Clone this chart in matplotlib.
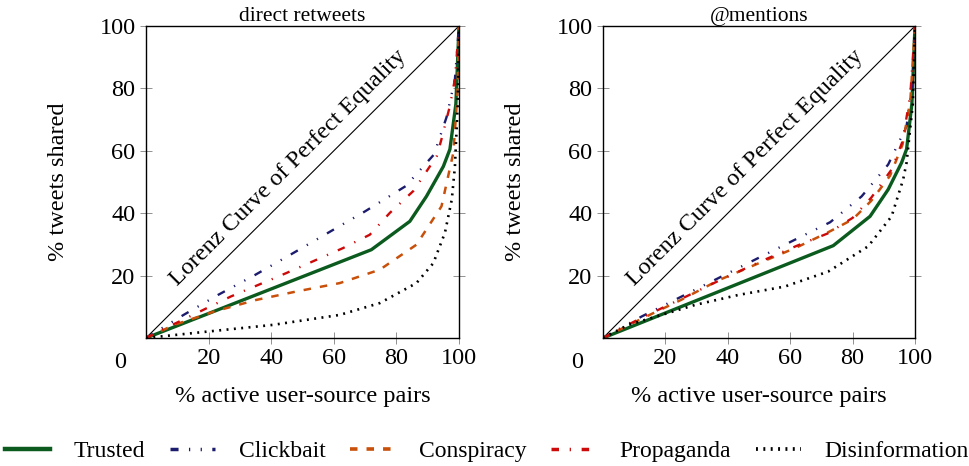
import matplotlib
matplotlib.use('Agg')
import matplotlib.pyplot as plt
import numpy as np

plt.rcParams['font.family'] = ['Liberation Serif', 'DejaVu Serif']
plt.rcParams['lines.scale_dashes'] = False

#----------------------------------------------------------------------
# data (% active user-source pairs, % tweets shared)

rt_trusted_x = [0, 72, 84.3, 89.6, 95, 97.1, 99, 100]
rt_trusted_y = [0, 28.3, 37.4, 45.4, 55, 60.5, 75, 100]

rt_click_x = [0, 12, 23, 35, 47, 59, 70, 83, 92, 96, 98.7, 100]
rt_click_y = [0, 7.4, 13.8, 20.3, 27.2, 34.2, 40.6, 48.7, 58.8, 70.7, 83, 100]

rt_consp_x = [0, 9, 21.8, 35.2, 48, 61.9, 74.7, 86.4, 94.4, 98.2, 99.5, 100]
rt_consp_y = [0, 4.2, 8.5, 12.2, 14.9, 17.6, 21.9, 29.9, 42.2, 59.4, 78, 100]

rt_prop_x = [0, 8.4, 27.1, 44.8, 62.9, 71.5, 77.9, 85.4, 92.9, 94.4, 97.1, 98.7, 100]
rt_prop_y = [0, 4.2, 13.3, 20.8, 28.8, 33.1, 40.1, 47.1, 58.3, 63.7, 74.4, 83, 100]

rt_disinfo_x = [0, 19.1, 40.5, 61.9, 74.7, 86.4, 91.8, 95.5, 97.7, 98.7, 99.6, 100]
rt_disinfo_y = [0, 2, 4.2, 7.4, 11.2, 17.6, 24, 33.7, 44.4, 55, 75, 100]

mn_trusted_x = [0, 73.8, 85.6, 91.4, 95.7, 97.3, 99, 100]
mn_trusted_y = [0, 29.6, 39, 47.6, 56.2, 60.5, 75, 100]

mn_click_x = [0, 12.4, 25.2, 37, 48.7, 60.5, 72.8, 82.9, 91.4, 97.3, 99.2, 100]
mn_click_y = [0, 6.9, 13.3, 19.2, 25.1, 31, 37.1, 45.4, 55.6, 67.9, 82, 100]

mn_consp_x = [0, 12, 25, 37, 50, 62, 72, 80, 86, 92, 96, 98.5, 100]
mn_consp_y = [0, 6, 12.2, 18.5, 24, 29, 33.8, 38, 44, 52, 62, 76, 100]

mn_prop_x = [0, 12, 25, 37, 50, 62, 72, 80, 86, 92.5, 96, 98.5, 100]
mn_prop_y = [0, 6.3, 12.5, 18.3, 24.3, 29.5, 33.5, 38.5, 45, 54, 63, 78, 100]

mn_disinfo_x = [0, 8.1, 29.5, 43.4, 58.3, 72.2, 85, 92.5, 96.2, 97.3, 99.3, 100]
mn_disinfo_y = [0, 4.2, 10.6, 13.8, 16.5, 21.3, 29.4, 39, 50.8, 56.2, 75, 100]

labels = ['Trusted', 'Clickbait', 'Conspiracy', 'Propaganda', 'Disinformation']
ticks = [20, 40, 60, 80, 100]

styles = [
	dict(color='#0b5a1e', lw=2.4, ls='-'),
	dict(color='#1c1c6e', lw=1.7, ls=(0, (5.8, 7.5, 0.9, 7.5, 0.9, 7.5))),
	dict(color='#c8500a', lw=1.8, ls=(0, (5.4, 6.5))),
	dict(color='#cc0a0a', lw=1.7, ls=(0, (5.4, 7.7, 0.9, 7.7))),
	dict(color='black', lw=1.9, ls=(0, (1.4, 3.9))),
]

FS = 17.5

#----------------------------------------------------------------------

def plot_panel(ax, title, curves):

	ax.plot([0, 100], [0, 100], color='black', lw=0.8)
	ax.text(45.5, 54.5, 'Lorenz Curve of Perfect Equality', rotation=45,
		ha='center', va='center', fontsize=FS, rotation_mode='anchor')

	for (x, y), st in zip(curves, styles):
		ax.plot(x, y, color=st['color'], lw=st['lw'], linestyle=st['ls'],
			dash_capstyle='butt')

	ax.set_xlim(0, 100)
	ax.set_ylim(0, 100)
	ax.set_xticks(ticks)
	ax.set_yticks(ticks)
	ax.tick_params(direction='inout', length=9, width=0.6, labelsize=FS,
		top=False, right=True, pad=3, color='0.5')
	ax.text(-0.083, -0.08, '0', transform=ax.transAxes, ha='center', va='center', fontsize=FS)
	ax.set_title(title, fontsize=15.5, pad=3)
	ax.set_xlabel('% active user-source pairs', fontsize=FS, labelpad=12)
	ax.set_ylabel('% tweets shared', fontsize=FS, labelpad=22)
	for s in ax.spines.values():
		s.set_linewidth(1.0)

#----------------------------------------------------------------------

def main():

	fig = plt.figure(figsize=(9.69, 4.66), dpi=100)
	ax1 = fig.add_axes([146/969, 128/466, 313/969, 312/466])
	ax2 = fig.add_axes([603/969, 128/466, 312/969, 312/466])

	plot_panel(ax1, 'direct retweets', [
		(rt_trusted_x, rt_trusted_y), (rt_click_x, rt_click_y), (rt_consp_x, rt_consp_y),
		(rt_prop_x, rt_prop_y), (rt_disinfo_x, rt_disinfo_y)])
	plot_panel(ax2, '@mentions', [
		(mn_trusted_x, mn_trusted_y), (mn_click_x, mn_click_y), (mn_consp_x, mn_consp_y),
		(mn_prop_x, mn_prop_y), (mn_disinfo_x, mn_disinfo_y)])

	handles = [plt.Line2D([], [], color=st['color'], lw=st['lw'] + 0.8, linestyle=st['ls'],
		dash_capstyle='butt') for st in styles]
	fig.legend(handles, labels, loc='center', bbox_to_anchor=(487/969, 15/466),
		ncol=5, frameon=False, fontsize=17, handlelength=1.9, handletextpad=1.0,
		columnspacing=1.05, borderaxespad=0, borderpad=0)

	fig.savefig('out.png', dpi=100)

#----------------------------------------------------------------------

if __name__ == '__main__':
	main()
